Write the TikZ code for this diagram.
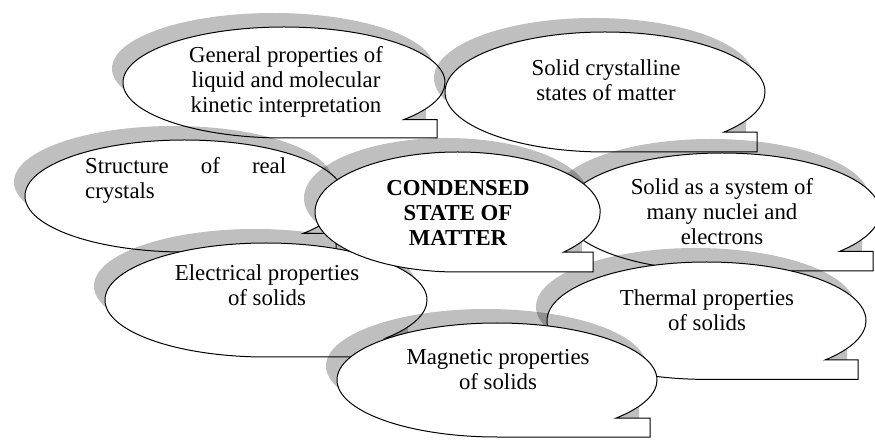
\documentclass[tikz,border=0pt]{standalone}
\usepackage{fontspec}
\setmainfont{Liberation Serif}
\tikzset{
  shadowfill/.style={fill=black, fill opacity=0.25, draw=none},
  bubble/.style={fill=white, draw=black, line width=1pt, line join=miter},
  txt/.style={align=center, inner sep=0pt, font=\fontsize{22.8}{25}\selectfont},
}
% #1 cx, #2 cy (from top), #3 rx, #4 ry, #5 x of tail corner
\newcommand\speechbubble[5]{%
  \fill[shadowfill, shift={(-11,14)}]
    ({#1},{439-#2-#4}) arc[start angle=270, end angle=-42, x radius=#3, y radius=#4]
    -- ({#5},{439-#2-0.669*#4}) -- ({#5},{439-#2-#4}) -- cycle;
  \draw[bubble]
    ({#1},{439-#2-#4}) arc[start angle=270, end angle=-42, x radius=#3, y radius=#4]
    -- ({#5},{439-#2-0.669*#4}) -- ({#5},{439-#2-#4}) -- cycle;
}
\begin{document}
\begin{tikzpicture}[x=1pt, y=1pt]
\path[use as bounding box] (0,0) rectangle (875,439);
\fill[white] (0,0) rectangle (875,439);
\clip (0,0) rectangle (875,439);

\speechbubble{284}{82.5}{161}{55.5}{437}
\node[txt] (general) at (286,{439-82}) {General properties of\\liquid and molecular\\kinetic interpretation};

\speechbubble{605}{92}{160}{60}{757}
\node[txt] (crystal) at (606,{439-80}) {Solid crystalline\\states of matter};

\speechbubble{184.5}{196}{159.5}{56}{336}
\node[txt, anchor=west, text width=201pt, align=left] (structure) at (85,{439-180.5}) {\makebox[201pt][l]{Structure\hfill of\hfill real}\\crystals};

\speechbubble{722}{212}{158}{59}{873}
\node[txt] (system) at (722,{439-212}) {Solid as a system of\\many nuclei and\\electrons};

\speechbubble{266}{300}{161}{57}{419}
\node[txt] (electrical) at (267,{439-285.5}) {Electrical properties\\of solids};

\speechbubble{706.5}{320.7}{159.5}{58.7}{858}
\node[txt] (thermal) at (707,{439-310.5}) {Thermal properties\\of solids};

\speechbubble{457.6}{212}{142.6}{60}{593}
\node[txt, font=\fontsize{22.8}{25}\selectfont\bfseries] (center) at (458,{439-213}) {CONDENSED\\STATE OF\\MATTER};

\speechbubble{497}{380}{160}{57}{650}
\node[txt] (magnetic) at (498,{439-369.5}) {Magnetic properties\\of solids};
\end{tikzpicture}
\end{document}
